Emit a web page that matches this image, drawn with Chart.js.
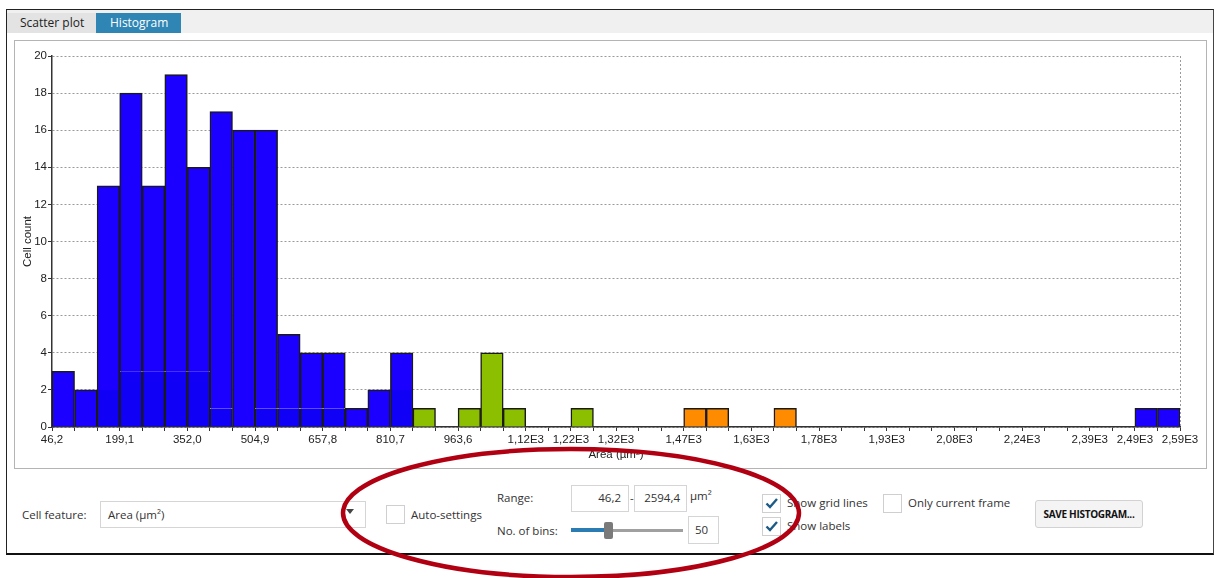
<!DOCTYPE html>
<html>
<head>
<meta charset="utf-8">
<script src="https://cdn.jsdelivr.net/npm/chart.js@4.4.0/dist/chart.umd.min.js"></script>
<style>
  body { margin: 0; width: 1215px; height: 578px; background: #fff; position: relative; overflow: hidden;
         font-family: 'Open Sans', 'Noto Sans', sans-serif; font-size: 11.5px; color: #333; }
  .abs { position: absolute; box-sizing: border-box; }
  .frame { left: 6px; top: 9px; width: 1208px; height: 546px; border-top: 1.5px solid #222; border-left: 1.5px solid #222;
           border-right: 1px solid #444; border-bottom: 2px solid #111; }
  .strip { left: 7px; top: 10px; width: 1206px; height: 23px; background: #f0f0f0; }
  .tab { top: 13px; height: 20px; line-height: 20px; font-size: 12px; }
  .panel { left: 14px; top: 40px; width: 1193px; height: 429px; border: 1px solid #b4b4b4; }
  .box { border: 1px solid #d5d5d5; background: #fff; }
  .lbl { white-space: nowrap; line-height: 16px; }
  .chk { width: 19px; height: 19px; border: 1px solid #cfcfcf; background: #fff; }
  .btn { left: 1035px; top: 500px; width: 108px; height: 28px; border: 1px solid #d2d2d2; border-radius: 3px; background: #f4f4f4;
         font-weight: bold; font-size: 10px; letter-spacing: -0.3px; line-height: 26px; text-align: center; color: #111; }
</style>
</head>
<body>
<div class="abs frame"></div>
<div class="abs strip"></div>
<div class="abs tab" style="left:7px;width:89px;background:#e3e3e3;color:#222;padding-left:13px;">Scatter plot</div>
<div class="abs tab" style="left:96px;width:85px;background:#2f86b4;color:#fff;padding-left:14px;">Histogram</div>
<div class="abs panel"></div>
<div class="abs" style="left:15px;top:41px;width:1190px;height:426px;">
  <canvas id="hist" width="1190" height="426"></canvas>
</div>

<!-- controls below the chart -->
<div class="abs lbl" style="left:22px;top:507px;">Cell feature:</div>
<div class="abs box" style="left:100px;top:501px;width:266px;height:27px;"></div>
<div class="abs lbl" style="left:108px;top:507px;">Area (µm²)</div>
<svg class="abs" style="left:346px;top:509px;" width="9" height="6"><path d="M0 0 L8 0 L4 5 Z" fill="#444"/></svg>

<div class="abs chk" style="left:386px;top:505px;"></div>
<div class="abs lbl" style="left:411px;top:507px;">Auto-settings</div>

<div class="abs lbl" style="left:497px;top:490px;">Range:</div>
<div class="abs box" style="left:571px;top:485px;width:58px;height:27px;"></div>
<div class="abs lbl" style="left:571px;top:490px;width:50px;text-align:right;">46,2</div>
<div class="abs lbl" style="left:630px;top:490px;">-</div>
<div class="abs box" style="left:634px;top:485px;width:53px;height:27px;"></div>
<div class="abs lbl" style="left:634px;top:490px;width:46px;text-align:right;">2594,4</div>
<div class="abs lbl" style="left:690px;top:488px;">µm²</div>

<div class="abs lbl" style="left:497px;top:523px;">No. of bins:</div>
<div class="abs" style="left:571px;top:529px;width:112px;height:3px;background:#a0a0a0;"></div>
<div class="abs" style="left:571px;top:528px;width:36px;height:4px;background:#2b7cb3;"></div>
<div class="abs" style="left:604px;top:522px;width:9px;height:17px;background:#7a7a7a;border-radius:2px;"></div>
<div class="abs box" style="left:688px;top:516px;width:31px;height:28px;"></div>
<div class="abs lbl" style="left:695px;top:522px;">50</div>

<div class="abs chk" style="left:762px;top:494px;"></div>
<svg class="abs" style="left:765px;top:497px;" width="14" height="13"><path d="M1.5 6.5 L5 10 L12 2" fill="none" stroke="#1d5b86" stroke-width="2.4"/></svg>
<div class="abs lbl" style="left:787px;top:495px;">Show grid lines</div>
<div class="abs chk" style="left:762px;top:517px;"></div>
<svg class="abs" style="left:765px;top:520px;" width="14" height="13"><path d="M1.5 6.5 L5 10 L12 2" fill="none" stroke="#1d5b86" stroke-width="2.4"/></svg>
<div class="abs lbl" style="left:787px;top:518px;">Show labels</div>
<div class="abs chk" style="left:883px;top:494px;"></div>
<div class="abs lbl" style="left:908px;top:495px;">Only current frame</div>
<div class="abs btn">SAVE HISTOGRAM...</div>

<svg class="abs" style="left:0;top:0;pointer-events:none;" width="1215" height="578">
  <ellipse cx="571" cy="513" rx="228" ry="64" fill="none" stroke="#b00012" stroke-width="4.5"/>
</svg>

<script>
// histogram settings as shown in the panel
const rangeMin = 46.2;
const rangeMax = 2594.4;
const binCount = 50;

// counts per bin, one array per colour class (0 = empty bin)
const blueBase = [0, 0, 2, 3, 3, 3, 3, 1, 0, 1,
                  1, 1, 1, 0, 0, 2, 0, 0, 0, 0,
                  0, 0, 0, 0, 0, 0, 0, 0, 0, 0,
                  0, 0, 0, 0, 0, 0, 0, 0, 0, 0,
                  0, 0, 0, 0, 0, 0, 0, 0, 0, 0];
const blueTop = [3, 2, 11, 15, 10, 16, 11, 16, 16, 15,
                 4, 3, 3, 1, 2, 2, 0, 0, 0, 0,
                 0, 0, 0, 0, 0, 0, 0, 0, 0, 0,
                 0, 0, 0, 0, 0, 0, 0, 0, 0, 0,
                 0, 0, 0, 0, 0, 0, 0, 0, 1, 1];
const greenBins = [0, 0, 0, 0, 0, 0, 0, 0, 0, 0,
                   0, 0, 0, 0, 0, 0, 1, 0, 1, 4,
                   1, 0, 0, 1, 0, 0, 0, 0, 0, 0,
                   0, 0, 0, 0, 0, 0, 0, 0, 0, 0,
                   0, 0, 0, 0, 0, 0, 0, 0, 0, 0];
const orangeBins = [0, 0, 0, 0, 0, 0, 0, 0, 0, 0,
                    0, 0, 0, 0, 0, 0, 0, 0, 0, 0,
                    0, 0, 0, 0, 0, 0, 0, 0, 1, 1,
                    0, 0, 1, 0, 0, 0, 0, 0, 0, 0,
                    0, 0, 0, 0, 0, 0, 0, 0, 0, 0];

// which bin edges carry a label, and the label text
const xTickBins = [0, 3, 6, 9, 12, 15, 18, 21, 23, 25, 28, 31, 34, 37, 40, 43, 46, 48, 50];
const xTickLabels = ['46,2', '199,1', '352,0', '504,9', '657,8', '810,7', '963,6', '1,12E3', '1,22E3', '1,32E3',
                     '1,47E3', '1,63E3', '1,78E3', '1,93E3', '2,08E3', '2,24E3', '2,39E3', '2,49E3', '2,59E3'];

const binWidth = (rangeMax - rangeMin) / binCount;
const binEdges = Array.from({ length: binCount + 1 }, (_, i) => rangeMin + i * binWidth);
const binCenters = binEdges.slice(0, binCount).map(e => e + binWidth / 2);

const toPoints = arr => arr.map((v, i) => ({ x: binCenters[i], y: v || null }));
const tickFont = { family: 'Liberation Sans', size: 11.5 };

function ds(label, arr, color, border) {
  return {
    label: label,
    data: toPoints(arr),
    backgroundColor: color,
    borderColor: '#1a1a1a',
    borderWidth: border,
    barPercentage: 1,
    categoryPercentage: 1
  };
}

new Chart(document.getElementById('hist'), {
  type: 'bar',
  data: {
    datasets: [
      ds('blueBase', blueBase, '#1000f6', { top: 0, left: 1.5, right: 1.5, bottom: 0 }),
      ds('blueTop', blueTop, '#1c00ff', 1.5),
      ds('green', greenBins, '#8bbf00', 1.5),
      ds('orange', orangeBins, '#ff8c00', 1.5)
    ]
  },
  options: {
    responsive: false,
    animation: false,
    devicePixelRatio: 1,
    layout: { padding: { left: 0, top: 15, right: 25, bottom: 0 } },
    plugins: { legend: { display: false }, tooltip: { enabled: false } },
    scales: {
      x: {
        type: 'linear',
        min: rangeMin,
        max: rangeMax,
        offset: false,
        stacked: true,
        afterBuildTicks: s => { s.ticks = binEdges.map(v => ({ value: v })); },
        afterFit: s => { s.height = 40; },
        ticks: {
          autoSkip: false, maxRotation: 0, padding: 2, color: '#222', font: tickFont,
          callback: (v, i) => { const k = xTickBins.indexOf(i); return k < 0 ? '' : xTickLabels[k]; }
        },
        grid: {
          offset: false,
          color: c => c.index === binCount ? '#9a9a9a' : 'rgba(0,0,0,0)',
          tickColor: '#333', tickLength: 4
        },
        border: { color: '#333', width: 1.5, dash: [2, 2] },
        title: { display: true, text: 'Area (µm²)', color: '#222', font: tickFont, padding: { top: 0, bottom: 5 } }
      },
      y: {
        min: 0,
        max: 20,
        stacked: true,
        afterFit: s => { s.width = 37; },
        ticks: { stepSize: 2, padding: 1, color: '#222', font: tickFont },
        grid: { color: '#9a9a9a', tickColor: '#333', tickLength: 4 },
        border: { color: '#333', width: 1.5, dash: [2, 2] },
        title: { display: true, text: 'Cell count', color: '#222', font: tickFont, padding: { top: 6, bottom: 0 } }
      }
    }
  }
});
</script>
</body>
</html>
